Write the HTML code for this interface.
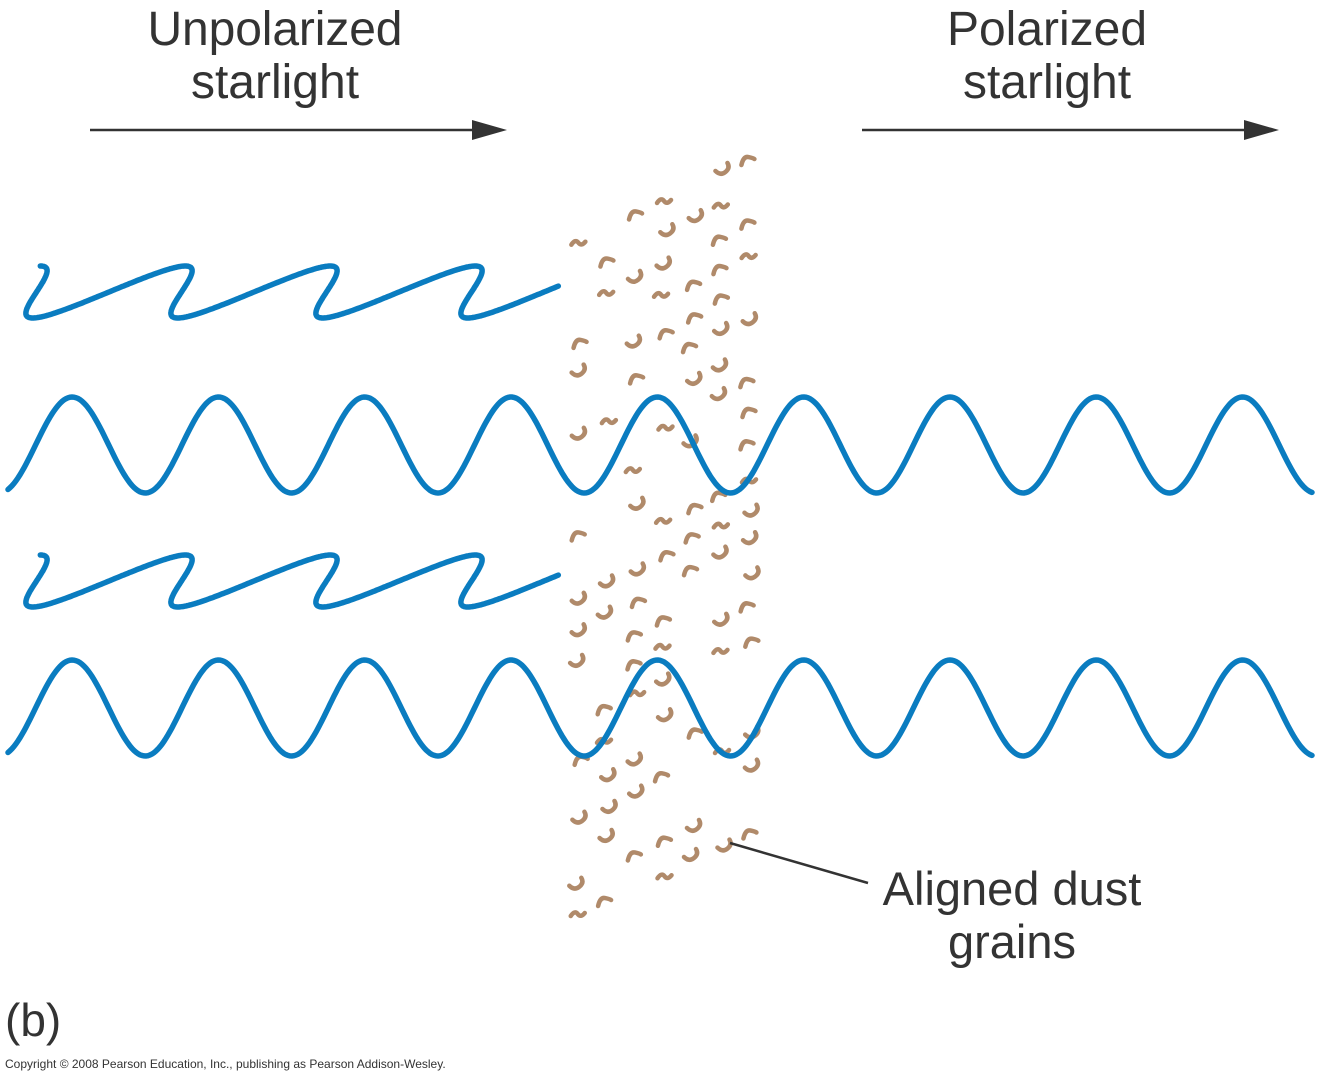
<!DOCTYPE html>
<html><head><meta charset="utf-8"><style>
html,body{margin:0;padding:0;background:#fff}
svg{display:block}
text{font-family:"Liberation Sans",sans-serif;fill:#333}
</style></head><body>
<svg id="s" width="1323" height="1080" viewBox="0 0 1323 1080" xmlns="http://www.w3.org/2000/svg">
<g id="dust" fill="none" stroke="#b08a6a" stroke-width="4.5" stroke-linecap="round"></g>
<g id="waves" fill="none" stroke="#0a7cc0" stroke-width="5.5" stroke-linecap="round"></g>
<text x="275" y="45" font-size="48" text-anchor="middle" textLength="255">Unpolarized</text>
<text x="275" y="98" font-size="48" text-anchor="middle">starlight</text>
<text x="1047" y="45" font-size="48" text-anchor="middle">Polarized</text>
<text x="1047" y="98" font-size="48" text-anchor="middle">starlight</text>
<line x1="90" y1="130" x2="490" y2="130" stroke="#333" stroke-width="2.5"/>
<polygon points="472,120 507,130 472,140" fill="#333"/>
<line x1="862" y1="130" x2="1262" y2="130" stroke="#333" stroke-width="2.5"/>
<polygon points="1244,120 1279,130 1244,140" fill="#333"/>
<line x1="730" y1="843" x2="868" y2="883" stroke="#333" stroke-width="2.5"/>
<text x="1012" y="905" font-size="47" text-anchor="middle">Aligned dust</text>
<text x="1012" y="958" font-size="47" text-anchor="middle">grains</text>
<text x="5" y="1036" font-size="46">(b)</text>
<text x="5" y="1068" font-size="12">Copyright © 2008 Pearson Education, Inc., publishing as Pearson Addison-Wesley.</text>
</svg>
<script>
var NS="http://www.w3.org/2000/svg";
function add(g,d){var p=document.createElementNS(NS,"path");p.setAttribute("d",d);document.getElementById(g).appendChild(p);}
var seed=7;function rnd(){seed=(seed*9301+49297)%233280;return seed/233280;}
for(var r=0;r<22;r++){
  for(var c=0;c<7;c++){
    var x=578+c*28.5, y=245+r*32-c*14.5;
    if(y<150||y>935)continue;
    if(rnd()<0.38)continue;
    x+=(rnd()-0.5)*6; y+=(rnd()-0.5)*6;
    var ph=(r*0.9+c*1.1)%6.28;
    var a=Math.sin(ph);
    var d;
    if(a>0.3){ d="M"+(x-6)+","+(y+6)+" Q"+(x-4)+","+(y-3)+" "+(x+1)+","+(y-2)+" T"+(x+7)+","+(y); }
    else if(a<-0.3){ d="M"+(x-6)+","+(y+1)+" Q"+(x-1)+","+(y+6)+" "+(x+4)+","+(y+2)+" T"+(x+6)+","+(y-7); }
    else { d="M"+(x-7)+","+(y+2)+" Q"+(x-3)+","+(y-4)+" "+x+","+y+" T"+(x+7)+","+(y-1); }
    add("dust",d);
  }
}
[445,708].forEach(function(c){var d="";for(var x=8;x<=1313;x+=2){var y=c+48*Math.cos((x+1)*2*Math.PI/146.3);d+=(d?"L":"M")+x+","+y.toFixed(1);}add("waves",d);});
[292,581].forEach(function(c){var d="";for(var th=Math.PI/2;th<40;th+=0.03){var x=-36+145*th/(2*Math.PI)+40*Math.sin(th);var y=c-26*Math.sin(th);if(x>560)break;d+=(d?"L":"M")+x.toFixed(1)+","+y.toFixed(1);}add("waves",d);});
</script>
</body></html>
